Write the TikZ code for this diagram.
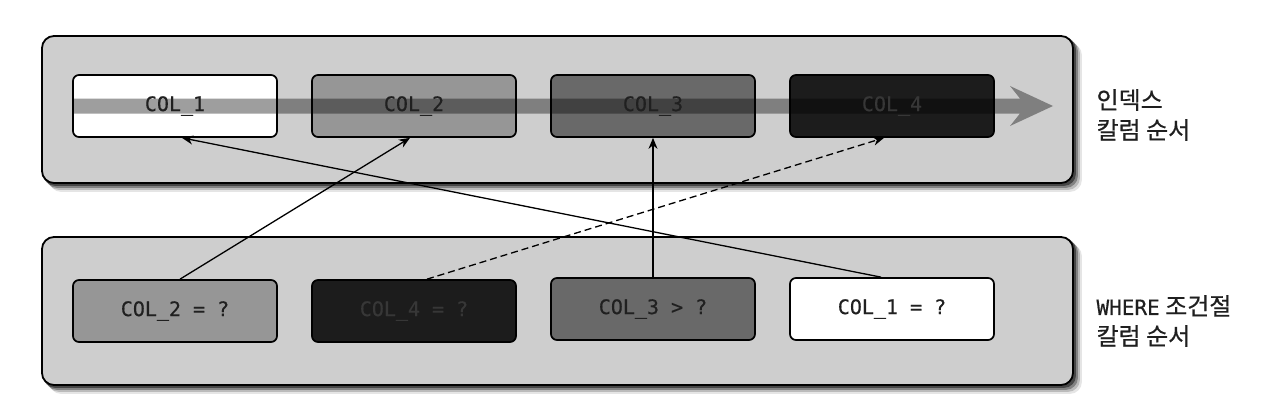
\documentclass[tikz,border=0pt]{standalone}
\usepackage{fontspec}
\newfontfamily\monof[FakeBold=0.4]{DejaVu Sans Mono}
\newfontfamily\krf[FakeBold=0.5]{Noto Sans CJK KR}
\usetikzlibrary{arrows.meta,backgrounds}
\definecolor{panelc}{RGB}{206,206,206}
\definecolor{cb}{RGB}{150,150,150}
\definecolor{cc}{RGB}{105,105,105}
\definecolor{cd}{RGB}{28,28,28}
\definecolor{bandc}{RGB}{158,158,158}
\definecolor{txt}{RGB}{32,32,32}
\definecolor{txtdark}{RGB}{55,55,55}
\begin{document}
\begin{tikzpicture}[x=1pt,y=-1pt,
  panel/.style={draw=black,line width=1.8pt,fill=panelc,rounded corners=12pt,
    minimum width=1031pt,minimum height=147pt,inner sep=0pt},
  colbox/.style={draw=black,line width=1.7pt,rounded corners=6pt,
    minimum width=204pt,minimum height=62pt,inner sep=0pt},
  coltext/.style={font=\monof\fontsize{20}{23}\selectfont,text=txt},
  conn/.style={line width=1.3pt,-{Stealth[length=11pt,width=9pt]}},
  sidelabel/.style={anchor=west,align=left,font=\krf\fontsize{24}{30}\selectfont,text=black!88}]
\useasboundingbox (0,0) rectangle (1280,412);
% panels
\node[panel] (P1) at (557.5,109.5) {};
\node[panel,minimum height=148pt] (P2) at (557.5,311) {};
\begin{scope}[on background layer]
  \fill[white] (0,0) rectangle (1280,412);
  \foreach \d/\o in {2/0.45,4/0.3,6/0.18,8/0.1}{
    \fill[black,opacity=\o,rounded corners=12pt]
      ([shift={(\d,\d)}]P1.north west) rectangle ([shift={(\d,\d)}]P1.south east);
    \fill[black,opacity=\o,rounded corners=12pt]
      ([shift={(\d,\d)}]P2.north west) rectangle ([shift={(\d,\d)}]P2.south east);
  }
\end{scope}
% index column boxes
\node[colbox,fill=white] (t1) at (175,106) {};
\node[colbox,fill=cb] (t2) at (414,106) {};
\node[colbox,fill=cc] (t3) at (653,106) {};
\node[colbox,fill=cd] (t4) at (892,106) {};
% wide order arrow
\begin{scope}[blend mode=multiply]
  \fill[bandc] (73,98.5) -- (1020,98.5) -- (1010,86) -- (1053,106) -- (1010,126)
    -- (1020,113.5) -- (73,113.5) -- cycle;
\end{scope}
\node[coltext] (l1) at (t1) {COL\_1};
\node[coltext] (l2) at (t2) {COL\_2};
\node[coltext] (l3) at (t3) {COL\_3};
\node[coltext,text=txtdark] (l4) at (t4) {COL\_4};
% where clause boxes
\node[colbox,coltext,fill=cb] (b1) at (175,311) {COL\_2 = ?};
\node[colbox,coltext,fill=cd,text=txtdark] (b2) at (414,311) {COL\_4 = ?};
\node[colbox,coltext,fill=cc] (b3) at (653,309) {COL\_3 > ?};
\node[colbox,coltext,fill=white] (b4) at (892,309) {COL\_1 = ?};
% connectors
\draw[conn] ([xshift=-11pt]b4.north) -- ([xshift=7pt]t1.south);
\draw[conn] ([xshift=5pt]b1.north) -- ([xshift=-4pt]t2.south);
\draw[conn] (b3.north) -- (t3.south);
\draw[conn,dash pattern=on 7pt off 4pt] ([xshift=13pt]b2.north) -- ([xshift=-8pt]t4.south);
% side labels
\node[sidelabel] (L1) at (1093,115) {인덱스\\칼럼 순서};
\node[sidelabel] (L2) at (1093,321) {{\monof\fontsize{21}{30}\selectfont WHERE} 조건절\\칼럼 순서};
\end{tikzpicture}
\end{document}
